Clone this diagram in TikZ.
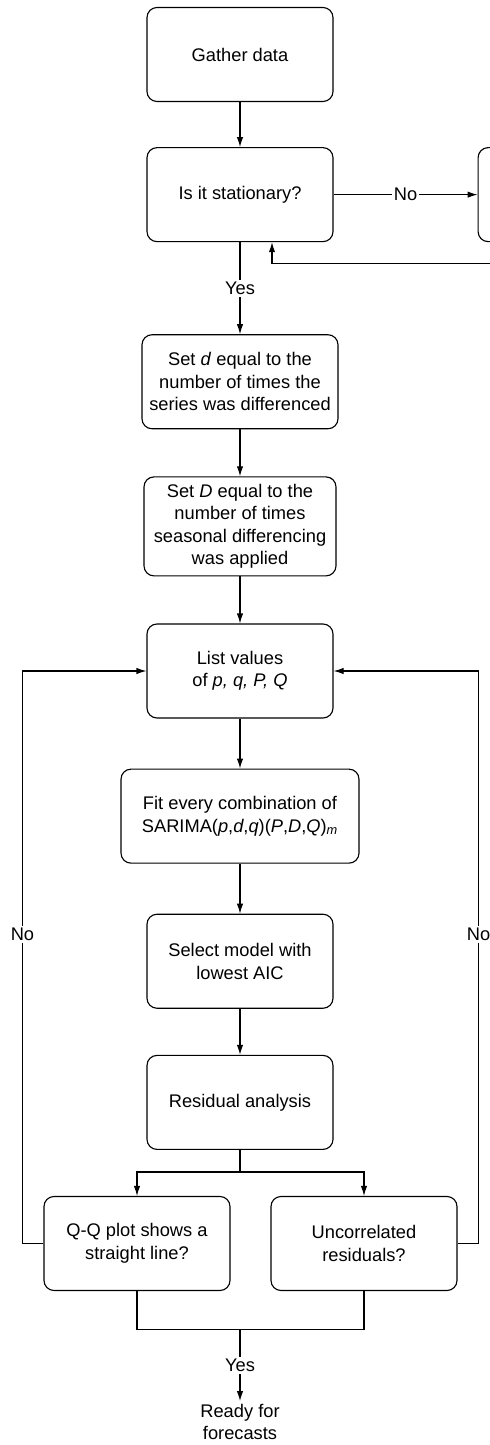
\documentclass[tikz,border=0pt]{standalone}
\usepackage{fontspec}
\setmainfont{Liberation Sans}
\usetikzlibrary{arrows.meta}
\usetikzlibrary{positioning}
\tikzstyle{process} = [rectangle, rounded corners=0.25cm, minimum width=4.65cm, minimum height=2.35cm, text centered, align=center, draw=black, fill=white, line width=0.8pt, font=\fontsize{13}{16}\selectfont]
\tikzstyle{flow} = [draw=black, line width=0.8pt, -{Latex[length=2.5mm,width=1.6mm]}]
\tikzstyle{link} = [draw=black, line width=0.8pt]
\tikzstyle{answer} = [fill=white, inner sep=1.5pt, font=\fontsize{13}{16}\selectfont]

\begin{document}
\begin{tikzpicture}[node distance=1.2cm]
\useasboundingbox (0,0) rectangle (12.25,-36.125);
\clip (0,0) rectangle (12.25,-36.125);

 \node (gather) [process] at (6,-1.3625) {Gather data};
 \node (stat) [process, below=1.125cm of gather] {Is it stationary?};
 \node (diff) [process, right=3.6cm of stat] {};
 \node (setd) [process, below=2.3cm of stat, minimum width=4.9cm] {Set \textit{d} equal to the\\number of times the\\series was differenced};
 \node (setD) [process, below=1.175cm of setd, minimum width=4.8cm, minimum height=2.475cm] {Set \textit{D} equal to the\\number of times\\seasonal differencing\\was applied};
 \node (list) [process, below=1.175cm of setD] {List values\\of \textit{p, q, P, Q}};
 \node (fit) [process, below=1.25cm of list, minimum width=5.95cm] {Fit every combination of\\SARIMA(\textit{p},\textit{d},\textit{q})(\textit{P},\textit{D},\textit{Q})\textsubscript{\textit{m}}};
 \node (select) [process, below=1.25cm of fit] {Select model with\\lowest AIC};
 \node (res) [process, below=1.15cm of select] {Residual analysis};
 \node (qq) [process, below=1.15cm of res, xshift=-2.575cm] {Q-Q plot shows a\\straight line?};
 \node (unc) [process, below=1.15cm of res, xshift=3.1cm] {Uncorrelated\\residuals?};
 \coordinate (join) at ([yshift=-0.95cm]qq.south -| res.south);
 \node (ready) [below=1.8cm of join, align=center, inner sep=2pt, font=\fontsize{13}{16}\selectfont] {Ready for\\forecasts};

 % main column
 \draw[flow] (gather) -- (stat);
 \draw[flow] (stat) -- node[answer] {No} (diff);
 \draw[flow] (diff.south) -- ++(0,-0.525) -| ([xshift=0.8cm]stat.south);
 \draw[flow] (stat) -- node[answer] {Yes} (setd);
 \draw[flow] (setd) -- (setD);
 \draw[flow] (setD) -- (list);
 \draw[flow] (list) -- (fit);
 \draw[flow] (fit) -- (select);
 \draw[flow] (select) -- (res);

 % residual checks
 \draw[flow] (res.south) -- ++(0,-0.55) -| (qq.north);
 \draw[flow] (res.south) -- ++(0,-0.55) -| (unc.north);
 \draw[link] (qq.south) |- (join) -| (unc.south);
 \draw[flow] (join) -- node[answer] {Yes} (ready.north);

 % back to the start of the search
 \draw[flow] (qq.west) -- ++(-0.525,0) |- node[answer, pos=0.27] {No} (list.west);
 \draw[flow] (unc.east) -- ++(0.525,0) |- node[answer, pos=0.27] {No} (list.east);
\end{tikzpicture}
\end{document}
